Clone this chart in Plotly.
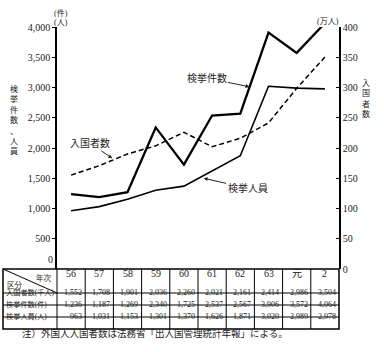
import plotly.graph_objects as go

years = ["56", "57", "58", "59", "60", "61", "62", "63", "元", "2"]
entrants_k = [1552, 1708, 1901, 2036, 2260, 2021, 2161, 2414, 2986, 3504]   # 千人
cases = [1236, 1187, 1269, 2340, 1725, 2537, 2567, 3906, 3572, 4064]          # 件
persons = [963, 1031, 1153, 1301, 1370, 1626, 1871, 3020, 2989, 2978]        # 人
row_labels = ["入国者数(千人)", "検挙件数(件)", "検挙人員(人)"]
left_ticks = [500, 1000, 1500, 2000, 2500, 3000, 3500, 4000]
right_ticks = [0, 50, 100, 150, 200, 250, 300, 350, 400]

W, H = 384, 352
L, R, T, B = 57, 45, 27, 83
PW, PH = W - L - R, H - T - B
FONT = "Liberation Serif, DejaVu Serif, Noto Sans CJK JP"

def px_x(px):
    return (px - L) / PW

def px_y(py):
    return (H - B - py) / PH

idx = list(range(len(years)))
entrants_man = [v / 10 for v in entrants_k]  # 千人 -> 万人

fig = go.Figure()
fig.add_trace(go.Scatter(x=idx, y=cases, mode="lines", line=dict(color="black", width=2.3), yaxis="y"))
fig.add_trace(go.Scatter(x=idx, y=persons, mode="lines", line=dict(color="black", width=1.6), yaxis="y"))
fig.add_trace(go.Scatter(x=idx, y=entrants_man, mode="lines",
                         line=dict(color="black", width=1.5, dash="5px,3px"), yaxis="y2"))

fig.update_layout(
    width=W, height=H, margin=dict(l=L, r=R, t=T, b=B, autoexpand=False),
    paper_bgcolor="white", plot_bgcolor="white", showlegend=False,
    font=dict(family=FONT, color="#222", size=10),
    xaxis=dict(range=[-0.5, 9.5], showticklabels=False, showgrid=False, zeroline=False,
               showline=False, ticks="", automargin=False, fixedrange=True),
    yaxis=dict(range=[0, 4000], tickvals=left_ticks, tickformat=",", showgrid=False,
               zeroline=False, showline=True, linecolor="black", linewidth=1.5, automargin=False,
               ticks="outside", ticklen=3, tickcolor="black", tickfont=dict(size=10)),
    yaxis2=dict(range=[0, 400], tickvals=right_ticks, overlaying="y", side="right", anchor="x",
                showgrid=False, zeroline=False, showline=True, linecolor="black", linewidth=1.5,
                automargin=False, ticks="inside", ticklen=3, tickcolor="black",
                tickfont=dict(size=10)),
)

ann = []
shapes = []

# left "0" label
ann.append(dict(x=px_x(55), y=0, xref="paper", yref="y", text="0", showarrow=False,
                xanchor="right", yanchor="bottom", yshift=2, font=dict(size=10)))
# unit labels
ann.append(dict(x=px_x(52), y=px_y(6), xref="paper", yref="paper", text="(件)", showarrow=False,
                font=dict(size=8)))
ann.append(dict(x=px_x(52), y=px_y(16), xref="paper", yref="paper", text="(人)", showarrow=False,
                font=dict(size=8)))
ann.append(dict(x=px_x(341), y=px_y(15), xref="paper", yref="paper", text="(万人)", showarrow=False,
                font=dict(size=8)))
# vertical axis titles
ann.append(dict(x=px_x(8), y=px_y(82), xref="paper", yref="paper",
                text="検<br>挙<br>件<br>数<br>、<br>人<br>員", showarrow=False,
                yanchor="top", font=dict(size=8)))
ann.append(dict(x=px_x(372), y=px_y(77), xref="paper", yref="paper",
                text="入<br>国<br>者<br>数", showarrow=False,
                yanchor="top", font=dict(size=8)))

# series labels with arrows
ann.append(dict(x=6.33, y=3010, xref="x", yref="y", text="検挙件数", showarrow=True,
                ax=-43, ay=-9, arrowhead=2, arrowsize=0.8, arrowwidth=1, arrowcolor="#222",
                font=dict(size=10)))
ann.append(dict(x=1.46, y=1830, xref="x", yref="y", text="入国者数", showarrow=True,
                ax=-22, ay=-15, arrowhead=2, arrowsize=0.8, arrowwidth=1, arrowcolor="#222",
                font=dict(size=10)))
ann.append(dict(x=4.7, y=1500, xref="x", yref="y", text="検挙人員", showarrow=True,
                ax=44, ay=10, arrowhead=2, arrowsize=0.8, arrowwidth=1, arrowcolor="#222",
                font=dict(size=10)))

# ---- data table below the chart ----
tl, tr = 3, L + PW
row_edges = [269, 293, 305, 317, 329]
line = dict(color="black", width=1)
shapes.append(dict(type="rect", xref="paper", yref="paper", x0=px_x(tl), x1=px_x(tr),
                   y0=px_y(row_edges[0]), y1=px_y(row_edges[-1]), line=dict(color="black", width=1.5)))
for py in row_edges[1:-1]:
    shapes.append(dict(type="line", xref="paper", yref="paper", x0=px_x(tl), x1=px_x(tr),
                       y0=px_y(py), y1=px_y(py), line=line))
for i in range(len(years)):
    xp = i / len(years)
    shapes.append(dict(type="line", xref="paper", yref="paper", x0=xp, x1=xp,
                       y0=px_y(row_edges[0]), y1=px_y(row_edges[-1]), line=line))
shapes.append(dict(type="line", xref="paper", yref="paper", x0=px_x(tl), x1=px_x(L),
                   y0=px_y(row_edges[0]), y1=px_y(row_edges[1]), line=line))
ann.append(dict(x=px_x(54), y=px_y(271), xref="paper", yref="paper", text="年次", showarrow=False,
                xanchor="right", yanchor="top", font=dict(size=7.5)))
ann.append(dict(x=px_x(5), y=px_y(292), xref="paper", yref="paper", text="区分", showarrow=False,
                xanchor="left", yanchor="bottom", font=dict(size=7.5)))
for i, yr in enumerate(years):
    ann.append(dict(x=i, y=px_y(281), xref="x", yref="paper", text=yr, showarrow=False,
                    font=dict(size=10)))
rows = [entrants_k, cases, persons]
for r, (lab, vals) in enumerate(zip(row_labels, rows)):
    cy = px_y((row_edges[r + 1] + row_edges[r + 2]) / 2)
    ann.append(dict(x=px_x(4), y=cy, xref="paper", yref="paper", text=lab, showarrow=False,
                    xanchor="left", font=dict(size=7.2)))
    for i, v in enumerate(vals):
        ann.append(dict(x=i + 0.46, y=cy, xref="x", yref="paper", text=f"{v:,}", showarrow=False,
                        xanchor="right", font=dict(size=8)))

ann.append(dict(x=px_x(20), y=px_y(341), xref="paper", yref="paper",
                text="注）外国人入国者数は法務省「出入国管理統計年報」による。", showarrow=False,
                xanchor="left", font=dict(size=9.5)))

fig.update_layout(annotations=ann, shapes=shapes)
fig.write_html("out.html")
